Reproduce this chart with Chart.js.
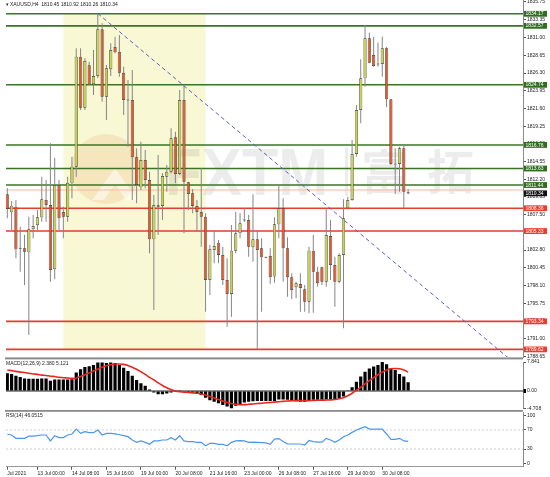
<!DOCTYPE html>
<html>
<head>
<meta charset="utf-8">
<title>XAUUSD H4</title>
<script src="https://cdn.jsdelivr.net/npm/chart.js@4.4.1/dist/chart.umd.min.js"></script>
<style>
  html, body { margin: 0; padding: 0; background: #fff; }
  #wrap { position: relative; width: 550px; height: 477px; overflow: hidden; }
  #wrap canvas { position: absolute; left: 0; }
</style>
</head>
<body>
<div id="wrap">
  <canvas id="priceChart" width="550" height="360" style="top:0"></canvas>
  <canvas id="macdChart" width="550" height="55" style="top:357px"></canvas>
  <canvas id="rsiChart" width="550" height="67" style="top:410px"></canvas>
</div>
<script>
// XAUUSD H4 candles, oldest first
const opens = [1810.20,1807.81,1808.57,1803.00,1803.04,1802.50,1805.56,1806.09,1807.15,1809.45,
  1808.79,1800.25,1811.44,1807.86,1807.24,1811.66,1813.88,1828.48,1821.71,1827.33,
  1824.81,1825.91,1832.11,1823.17,1826.80,1829.76,1829.14,1826.35,1822.78,1822.73,
  1815.12,1811.13,1814.76,1812.11,1804.23,1808.75,1808.65,1812.55,1813.21,1817.77,
  1812.90,1822.73,1811.80,1810.34,1808.65,1807.86,1807.24,1798.83,1802.81,1803.79,
  1802.15,1798.83,1796.97,1802.73,1805.03,1806.80,1806.80,1803.17,1804.23,1803.04,
  1801.88,1802.02,1799.28,1806.22,1808.35,1803.04,1799.19,1797.86,1798.30,1797.59,
  1795.96,1802.73,1799.94,1800.51,1798.61,1804.67,1800.82,1798.61,1802.15,1808.35,
  1809.45,1815.56,1821.40,1825.60,1830.91,1828.70,1827.50,1827.50,1829.58,1822.81,
  1814.23,1814.23,1816.31,1810.45];
const highs = [1811.00,1809.32,1809.45,1805.91,1804.81,1807.24,1807.46,1808.12,1812.55,1812.11,
  1816.97,1815.07,1812.11,1808.57,1812.55,1815.20,1829.58,1829.58,1828.26,1827.81,
  1829.36,1834.23,1832.90,1827.37,1830.25,1831.13,1831.35,1827.15,1825.38,1826.71,
  1816.31,1817.19,1816.09,1813.21,1810.12,1815.42,1812.99,1814.10,1818.96,1818.52,
  1824.05,1824.58,1811.88,1810.91,1809.45,1813.65,1807.68,1803.48,1805.47,1804.14,
  1803.26,1801.71,1806.13,1807.90,1807.68,1808.35,1807.46,1810.20,1805.47,1804.36,
  1801.93,1803.04,1807.15,1811.44,1809.67,1804.50,1799.72,1798.61,1799.72,1798.17,
  1803.26,1804.81,1800.60,1800.60,1808.35,1806.80,1801.93,1802.37,1809.54,1809.89,
  1817.42,1822.06,1828.12,1832.68,1831.66,1831.13,1830.34,1831.13,1829.81,1822.81,
  1816.31,1816.53,1816.75,1810.92];
const lows = [1807.02,1805.47,1801.71,1799.94,1798.17,1791.53,1804.36,1805.47,1806.58,1806.58,
  1798.61,1798.92,1805.47,1804.36,1806.58,1809.67,1812.55,1821.40,1821.40,1824.72,
  1823.39,1825.60,1822.50,1820.07,1825.91,1828.92,1825.82,1820.73,1816.53,1809.45,
  1809.01,1810.78,1811.00,1802.37,1794.85,1804.81,1806.80,1810.56,1812.99,1811.66,
  1812.77,1805.03,1808.12,1807.68,1805.25,1803.26,1794.63,1796.84,1801.04,1801.04,
  1798.17,1792.64,1793.96,1802.37,1804.36,1806.58,1801.93,1801.27,1789.63,1794.63,
  1801.71,1798.30,1798.48,1804.36,1798.61,1796.62,1796.27,1796.40,1794.63,1794.63,
  1794.41,1794.50,1797.95,1798.17,1797.95,1798.83,1795.29,1798.40,1792.42,1808.20,
  1809.36,1815.20,1819.63,1824.50,1827.59,1827.15,1827.15,1825.82,1821.75,1814.10,
  1810.25,1810.56,1808.40,1810.26];
const closes = [1808.26,1808.70,1802.90,1803.10,1802.59,1805.56,1806.00,1807.15,1809.54,1808.79,
  1800.16,1811.44,1807.02,1807.24,1811.75,1813.88,1828.48,1821.71,1827.90,1824.81,
  1825.91,1832.11,1823.17,1826.93,1829.36,1829.05,1826.35,1822.73,1822.65,1815.12,
  1811.44,1814.76,1812.11,1804.23,1808.79,1808.55,1812.64,1813.21,1817.64,1812.90,
  1822.73,1811.88,1810.25,1808.65,1807.86,1807.24,1798.83,1802.90,1803.35,1802.15,
  1798.83,1796.97,1802.73,1805.03,1806.35,1806.80,1803.26,1804.23,1802.81,1801.84,
  1801.84,1799.19,1806.22,1808.35,1803.04,1799.19,1797.50,1798.39,1797.77,1795.96,
  1802.73,1799.94,1798.39,1798.61,1804.81,1800.82,1798.61,1802.15,1807.02,1809.45,
  1815.56,1821.40,1825.60,1830.91,1827.68,1827.24,1827.50,1829.58,1822.81,1814.23,
  1814.23,1816.31,1810.56,1810.34];

// MACD(12,26,9) histogram and signal
const macdMain = [4.77,4.6,4.1,3.8,3.4,3.3,3.3,3.3,3.4,3.4,
  2.8,3.1,3.1,3.1,3.1,3.2,5.0,5.9,6.5,6.7,
  7.0,7.7,7.7,7.6,7.7,7.6,7.0,6.3,5.4,4.1,
  3.0,2.1,1.4,0.4,-0.4,-0.9,-0.9,-0.7,-0.4,-0.2,
  0.05,-0.2,-0.4,-0.5,-0.7,-1.1,-1.8,-2.5,-2.9,-3.3,
  -3.8,-4.2,-4.708,-4.0,-3.6,-3.1,-2.9,-2.8,-2.7,-2.7,
  -2.7,-2.7,-2.7,-2.3,-2.3,-2.4,-2.6,-2.8,-2.9,-2.9,
  -2.6,-2.4,-2.4,-2.4,-2.3,-2.3,-2.3,-2.0,-1.5,0.2,
  1.0,2.5,3.9,5.2,6.1,6.6,7.0,7.841,7.2,6.1,
  5.7,4.6,3.9,2.380];
const macdSignal = [5.7,5.5,5.3,5.1,5.0,4.8,4.6,4.5,4.3,4.2,
  4.0,3.9,3.7,3.6,3.5,3.4,3.5,3.9,4.4,4.9,
  5.4,5.9,6.4,6.8,7.1,7.3,7.3,7.2,6.9,6.4,
  5.9,5.2,4.5,3.7,3.0,2.2,1.5,0.9,0.4,0.0,
  -0.2,-0.3,-0.4,-0.5,-0.6,-0.8,-1.1,-1.5,-1.9,-2.3,
  -2.7,-3.1,-3.4,-3.6,-3.7,-3.7,-3.6,-3.5,-3.4,-3.3,
  -3.2,-3.1,-3.0,-2.9,-2.8,-2.7,-2.65,-2.6,-2.6,-2.6,
  -2.6,-2.55,-2.5,-2.5,-2.45,-2.4,-2.3,-2.1,-1.8,-1.3,
  -0.6,0.2,1.0,1.9,2.8,3.6,4.4,5.1,5.7,6.0,
  6.1,6.0,5.7,5.121];

// RSI(14)
const rsi14 = [61,59.5,52.5,52.5,52.5,57,57,58,59.5,59.5,
  47,58,54,54,59.5,61.6,72,63,66.5,64.4,
  64.4,70,59.5,63,63,62,60,58,56,49,
  44,47,44,40,47,47,49,49,54,49,
  58,47,45.5,45.5,44,44,37,42,42,40,
  40,37,44,47,47.5,47,44,44.5,44,43.5,
  43,40,51,52,46,41,40.6,40.6,40.6,38.5,
  48,45.5,44.5,44.5,52.5,49,44,49,56,59.5,
  65,70,73.5,77,72,72,72,72,61.6,50.4,
  50.4,52.5,47,46.0515];

// time axis
const tickBars = [0, 7, 15, 23, 31, 39, 47, 55, 63, 71, 79, 87];
const tickLabels = ['Jul 2021', '13 Jul 00:00', '14 Jul 08:00', '15 Jul 16:00', '19 Jul 00:00', '20 Jul 08:00',
  '21 Jul 16:00', '23 Jul 00:00', '26 Jul 08:00', '27 Jul 16:00', '29 Jul 00:00', '30 Jul 08:00'];

// price axis and drawn objects
const priceTicks = [1788.65, 1791.00, 1793.40, 1795.75, 1798.10, 1800.45, 1802.80, 1805.15, 1807.50, 1809.85,
  1812.20, 1814.55, 1816.90, 1819.25, 1821.60, 1823.95, 1826.30, 1828.65, 1831.00, 1833.35, 1835.75];
const resistLevels = [1834.17, 1832.57, 1824.74, 1816.76, 1813.63, 1811.44];
const supportLevels = [1808.36, 1805.33, 1793.34, 1789.62];
const bidPrice = 1810.34;
const askLine = 1810.78;
const zoneBars = [13, 46];
const zonePrices = [1789.62, 1834.17];
const trendBars = [21, 41];
const trendPrices = [1834.2, 1824.6];

const macdTicks = [-4.708, 0, 7.841];
const rsiTicks = [0, 30, 70, 100];
const rsiLevels = [30, 70];

Chart.defaults.font.family = '"Liberation Sans", "DejaVu Sans", sans-serif';
Chart.defaults.font.size = 5;
Chart.defaults.color = '#222';
Chart.defaults.animation = false;

const BULL = '#c8d24e', BEAR = '#e5582a', DOJI = '#333333', WICK = '#858585';
const X_MIN = -0.3, X_MAX = 119.65;
const FONT = '5px "Liberation Sans", "DejaVu Sans", sans-serif';
const last = closes.length - 1;
const bars = closes.map((_, i) => i);

function timeAxis(show) {
    return {
        type: 'linear', min: X_MIN, max: X_MAX, offset: false, display: show,
        afterBuildTicks: s => { s.ticks = tickBars.map(v => ({ value: v })); },
        afterFit: s => { s.height = show ? 10.3 : 0; s.paddingLeft = 0; s.paddingRight = 0; },
        ticks: {
            autoSkip: false, maxRotation: 0, align: 'start', padding: 0.5,
            callback: v => tickLabels[tickBars.indexOf(v)]
        },
        grid: { offset: false, drawOnChartArea: false, tickLength: 3, color: '#555' },
        border: { color: '#9a9a9a' }
    };
}

function valueAxis(min, max, values, fmt) {
    return {
        position: 'right', min: min, max: max, beginAtZero: false,
        afterBuildTicks: s => { s.ticks = values.map(v => ({ value: v })); },
        afterFit: s => { s.width = 27; s.paddingTop = 0; s.paddingBottom = 0; },
        ticks: { autoSkip: false, padding: 1, callback: fmt },
        grid: { drawOnChartArea: false, tickLength: 3, color: '#555' },
        border: { color: '#8a8a8a' }
    };
}

function drawWatermark(ctx) {
    ctx.save();
    ctx.fillStyle = 'rgba(238,150,90,0.18)';
    ctx.beginPath();
    ctx.arc(106, 169, 35, 0, Math.PI * 2);
    ctx.fill();
    ctx.fillStyle = 'rgba(255,255,255,0.5)';
    ctx.beginPath();
    ctx.moveTo(92, 200); ctx.lineTo(115, 168); ctx.lineTo(138, 200);
    ctx.lineTo(126, 200); ctx.lineTo(115, 184); ctx.lineTo(104, 200);
    ctx.closePath();
    ctx.fill();

    ctx.fillStyle = 'rgba(0,0,0,0.075)';
    ctx.textBaseline = 'alphabetic';
    ctx.font = 'bold 60px "Liberation Sans", sans-serif';
    ctx.save();
    ctx.translate(165, 195);
    ctx.scale(1, 1.12);
    ctx.fillText('FXTM', 0, 0);
    ctx.restore();
    ctx.fillRect(345, 147, 3, 49);
    ctx.font = 'bold 47px "Noto Sans CJK SC", sans-serif';
    ctx.fillText('富', 361, 189);
    ctx.fillText('拓', 427, 189);
    ctx.restore();
}

// price panel decorations: zone, watermark, levels, price tags, header
const priceDecor = {
    id: 'priceDecor',
    beforeDatasetsDraw(chart) {
        const { ctx, chartArea: a, scales: { x, y } } = chart;
        ctx.save();
        ctx.beginPath();
        ctx.rect(a.left, a.top, a.right - a.left, a.bottom - a.top);
        ctx.clip();

        const zx0 = x.getPixelForValue(zoneBars[0]);
        const zx1 = x.getPixelForValue(zoneBars[1]);
        const zy0 = y.getPixelForValue(zonePrices[1]);
        const zy1 = y.getPixelForValue(zonePrices[0]);
        ctx.fillStyle = '#f8f8d5';
        ctx.fillRect(zx0, zy0, zx1 - zx0, zy1 - zy0);

        drawWatermark(ctx);

        const hline = (p, color, w) => {
            const py = y.getPixelForValue(p);
            ctx.strokeStyle = color;
            ctx.lineWidth = w;
            ctx.beginPath();
            ctx.moveTo(a.left, py);
            ctx.lineTo(a.right, py);
            ctx.stroke();
        };
        hline(askLine, '#f5b9a0', 1.2);
        resistLevels.forEach(p => hline(p, '#3a7526', 1.6));
        supportLevels.forEach(p => hline(p, '#ea3a2e', 1.6));
        ctx.restore();
    },
    afterDraw(chart) {
        const { ctx, chartArea: a, scales: { y } } = chart;
        ctx.save();
        ctx.font = FONT;
        ctx.textBaseline = 'middle';
        const tag = (p, bg) => {
            const py = y.getPixelForValue(p);
            ctx.fillStyle = bg;
            ctx.fillRect(a.right + 1, py - 2.9, 23, 5.8);
            ctx.fillStyle = '#fff';
            ctx.fillText(p.toFixed(2), a.right + 2.5, py + 0.2);
        };
        resistLevels.forEach(p => tag(p, '#2f6d1f'));
        supportLevels.forEach(p => tag(p, '#ef3b2d'));
        tag(bidPrice, '#111');

        ctx.fillStyle = '#222';
        ctx.fillText('\u25BE XAUUSD,H4  ' + [opens[last], highs[last], lows[last], closes[last]]
            .map(v => v.toFixed(2)).join(' '), 6, 4.5);
        ctx.restore();
    }
};

const bodyData = bars.map(i => {
    let lo = Math.min(opens[i], closes[i]);
    let hi = Math.max(opens[i], closes[i]);
    if (hi - lo < 0.13) {
        const m = (lo + hi) / 2;
        lo = m - 0.07;
        hi = m + 0.07;
    }
    return { x: i, y: [lo, hi] };
});
const bodyColor = i => {
    const d = closes[i] - opens[i];
    return Math.abs(d) < 0.13 ? DOJI : (d > 0 ? BULL : BEAR);
};

const trendSlope = (trendPrices[1] - trendPrices[0]) / (trendBars[1] - trendBars[0]);
const trendData = [
    { x: trendBars[0], y: trendPrices[0] },
    { x: X_MAX, y: trendPrices[0] + trendSlope * (X_MAX - trendBars[0]) }
];

new Chart(document.getElementById('priceChart'), {
    type: 'bar',
    data: {
        datasets: [
            {
                type: 'line', data: trendData, borderColor: '#5d5dc8', borderWidth: 1,
                borderDash: [4, 3], pointRadius: 0, order: 0
            },
            {
                data: bodyData, grouped: false, barThickness: 3.2, inflateAmount: 0,
                backgroundColor: ctx => bodyColor(ctx.dataIndex),
                borderColor: '#3c3c3c', borderWidth: 0.7, borderSkipped: false, order: 1
            },
            {
                data: bars.map(i => ({ x: i, y: [lows[i], highs[i]] })), grouped: false,
                barThickness: 1, inflateAmount: 0, backgroundColor: WICK, borderWidth: 0, order: 2
            }
        ]
    },
    options: {
        responsive: false,
        events: [],
        layout: { padding: { left: 6, right: 0, top: 0, bottom: 3 } },
        plugins: { legend: { display: false }, tooltip: { enabled: false } },
        scales: {
            x: timeAxis(false),
            y: valueAxis(1788.61, 1836.0, priceTicks, v => v.toFixed(2))
        }
    },
    plugins: [priceDecor]
});

// MACD panel
const macdDecor = {
    id: 'macdDecor',
    beforeDatasetsDraw(chart) {
        const { ctx, chartArea: a, scales: { y } } = chart;
        ctx.save();
        ctx.fillStyle = '#8c8c8c';
        ctx.fillRect(a.left - 1, 0.4, a.right - a.left + 1, 2);
        const z = y.getPixelForValue(0);
        ctx.strokeStyle = '#6b6b6b';
        ctx.lineWidth = 1.6;
        ctx.beginPath();
        ctx.moveTo(a.left, z);
        ctx.lineTo(a.right, z);
        ctx.stroke();
        ctx.restore();
    },
    afterDraw(chart) {
        const { ctx, chartArea: a, scales: { y } } = chart;
        ctx.save();
        ctx.fillStyle = '#000';
        ctx.fillRect(a.right + 0.5, y.getPixelForValue(0) - 2, 2.5, 4);
        ctx.font = FONT;
        ctx.textBaseline = 'middle';
        ctx.fillStyle = '#222';
        ctx.fillText('MACD(12,26,9) ' + macdMain[last].toFixed(3) + ' ' + macdSignal[last].toFixed(3), 6, 7);
        ctx.restore();
    }
};

new Chart(document.getElementById('macdChart'), {
    type: 'bar',
    data: {
        datasets: [
            {
                type: 'line', data: bars.map(i => ({ x: i, y: macdSignal[i] })),
                borderColor: '#e8271d', borderWidth: 1.6, pointRadius: 0, tension: 0.3, order: 0
            },
            {
                data: bars.map(i => ({ x: i, y: macdMain[i] })), grouped: false,
                barThickness: 3.2, inflateAmount: 0, backgroundColor: '#000', order: 1
            }
        ]
    },
    options: {
        responsive: false,
        events: [],
        layout: { padding: { left: 6, right: 0, top: 5, bottom: 3.6 } },
        plugins: { legend: { display: false }, tooltip: { enabled: false } },
        scales: {
            x: timeAxis(false),
            y: valueAxis(-4.708, 7.841, macdTicks, v => v === 0 ? '0.00' : v.toFixed(3))
        }
    },
    plugins: [macdDecor]
});

// RSI panel
const rsiDecor = {
    id: 'rsiDecor',
    beforeDatasetsDraw(chart) {
        const { ctx, chartArea: a, scales: { y } } = chart;
        ctx.save();
        ctx.fillStyle = '#8c8c8c';
        ctx.fillRect(a.left - 1, 0, a.right - a.left + 1, 1.8);
        ctx.strokeStyle = '#c4c4c4';
        ctx.lineWidth = 0.8;
        ctx.setLineDash([2, 2]);
        rsiLevels.forEach(v => {
            const py = y.getPixelForValue(v);
            ctx.beginPath();
            ctx.moveTo(a.left, py);
            ctx.lineTo(a.right, py);
            ctx.stroke();
        });
        ctx.restore();
    },
    afterDraw(chart) {
        const { ctx } = chart;
        ctx.save();
        ctx.font = FONT;
        ctx.textBaseline = 'middle';
        ctx.fillStyle = '#222';
        ctx.fillText('RSI(14) ' + rsi14[last].toFixed(4), 6, 6);
        ctx.restore();
    }
};

new Chart(document.getElementById('rsiChart'), {
    type: 'line',
    data: {
        datasets: [{
            data: bars.map(i => ({ x: i, y: rsi14[i] })),
            borderColor: '#4b97ee', borderWidth: 1.2, pointRadius: 0, tension: 0
        }]
    },
    options: {
        responsive: false,
        events: [],
        layout: { padding: { left: 6, right: 0, top: 2, bottom: 0 } },
        plugins: { legend: { display: false }, tooltip: { enabled: false } },
        scales: {
            x: timeAxis(true),
            y: valueAxis(-7.1, 107.8, rsiTicks, v => String(v))
        }
    },
    plugins: [rsiDecor]
});
</script>
</body>
</html>
